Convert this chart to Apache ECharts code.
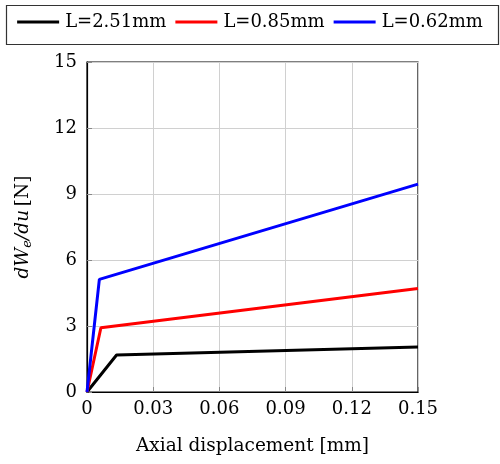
<!DOCTYPE html>
<html><head><meta charset="utf-8">
<script src="https://cdn.jsdelivr.net/npm/echarts@6/dist/echarts.min.js"></script>
<style>html,body{margin:0;padding:0;background:#fff}#c{width:500px;height:464px}</style>
</head><body><div id="c"></div>
<script>
const seriesNames = ['L=2.51mm', 'L=0.85mm', 'L=0.62mm'];
const seriesColors = ['#000000', '#ff0000', '#0000ff'];
const xBlack = [0, 0.0134, 0.15];
const yBlack = [0, 1.68, 2.05];
const xRed = [0, 0.0063, 0.15];
const yRed = [0, 2.92, 4.70];
const xBlue = [0, 0.0056, 0.15];
const yBlue = [0, 5.12, 9.45];
const xTicks = [0, 0.03, 0.06, 0.09, 0.12, 0.15];
const yTicks = [0, 3, 6, 9, 12, 15];

const font = '"DejaVu Serif", "Liberation Serif", serif';
const pairs = (xs, ys) => xs.map((x, i) => [x, ys[i]]);
const data = [pairs(xBlack, yBlack), pairs(xRed, yRed), pairs(xBlue, yBlue)];

const chart = echarts.init(document.getElementById('c'), null, {renderer: 'canvas'});
chart.setOption({
  animation: false,
  textStyle: {fontFamily: font},
  graphic: [{type: 'rect', left: 4, top: 3, shape: {width: 492, height: 39}, style: {fill: 'none', stroke: '#333', lineWidth: 1.2}, silent: true}],
  legend: {
    left: 'center', top: 13,
    padding: 0,
    itemWidth: 42, itemHeight: 3, itemGap: 9,
    icon: 'rect',
    textStyle: {fontFamily: font, fontSize: 18, color: '#000', padding: [0, 0, 0, 1]},
    data: seriesNames
  },
  grid: {left: 87, right: 82, top: 62, bottom: 72, show: true, borderColor: '#000', borderWidth: 1.2},
  xAxis: {
    type: 'value', min: 0, max: 0.15, interval: 0.03,
    name: 'Axial displacement [mm]', nameLocation: 'middle', nameGap: 45,
    nameTextStyle: {fontFamily: font, fontSize: 18.5, color: '#000'},
    axisLine: {show: true, onZero: false, lineStyle: {color: '#000', width: 1.2}},
    axisTick: {show: true, inside: true, length: 5, lineStyle: {color: '#888'}},
    axisLabel: {fontFamily: font, fontSize: 18, color: '#000', margin: 8,
      formatter: v => { const t = xTicks.find(a => Math.abs(a - v) < 1e-9); return t === undefined ? '' : String(t); }},
    splitLine: {show: true, lineStyle: {color: '#d0d0d0', width: 1}}
  },
  yAxis: {
    type: 'value', min: 0, max: 15, interval: 3,
    name: '{i|dW}{s|e}{i|/du} {n|[N]}', nameLocation: 'middle', nameGap: 53,
    nameRotate: 90,
    nameTextStyle: {
      rich: {
        i: {fontFamily: font, fontStyle: 'italic', fontSize: 18.5, color: '#000'},
        s: {fontFamily: font, fontStyle: 'italic', fontSize: 13, color: '#000', verticalAlign: 'bottom', padding: [8, 0, 0, 0]},
        n: {fontFamily: font, fontSize: 18.5, color: '#000'}
      }
    },
    axisLine: {show: true, lineStyle: {color: '#000', width: 1.2}},
    axisTick: {show: true, inside: true, length: 5, lineStyle: {color: '#888'}},
    axisLabel: {fontFamily: font, fontSize: 18, color: '#000', margin: 10,
      formatter: v => { const t = yTicks.find(a => Math.abs(a - v) < 1e-9); return t === undefined ? '' : String(t); }},
    splitLine: {show: true, lineStyle: {color: '#d0d0d0', width: 1}}
  },
  series: seriesNames.map((n, i) => ({
    name: n, type: 'line', data: data[i], showSymbol: false, symbol: 'none',
    lineStyle: {color: seriesColors[i], width: 3}, itemStyle: {color: seriesColors[i]},
    z: 3 + i
  }))
});
</script></body></html>
